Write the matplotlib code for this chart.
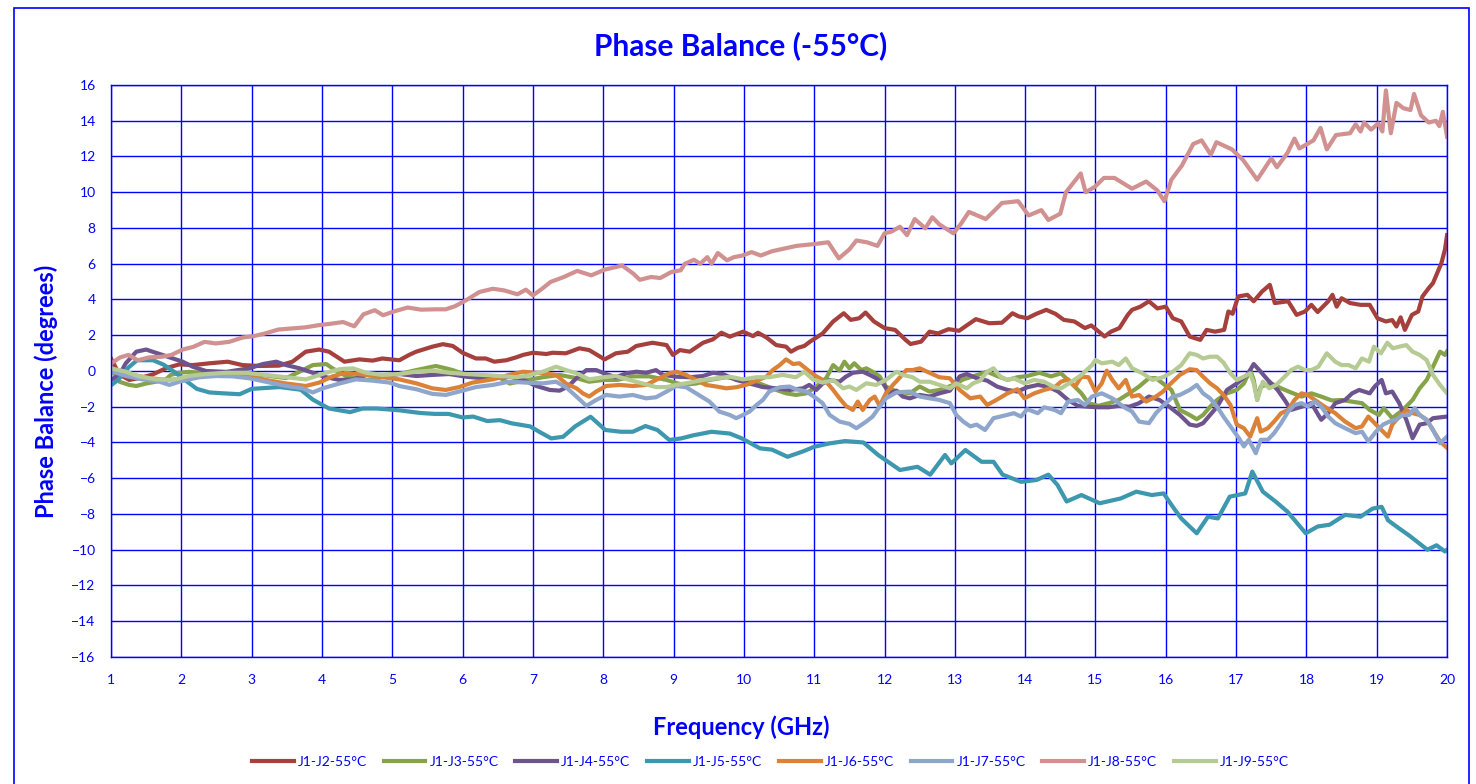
import matplotlib
matplotlib.use("Agg")
import matplotlib.pyplot as plt
from matplotlib.patches import Rectangle

plt.rcParams['font.family'] = ['Lato', 'DejaVu Sans']

BLUE = '#0000ff'

labels = ['J1-J2-55°C', 'J1-J3-55°C', 'J1-J4-55°C', 'J1-J5-55°C',
          'J1-J6-55°C', 'J1-J7-55°C', 'J1-J8-55°C', 'J1-J9-55°C']
colors = ['#a5403d', '#86a34a', '#6e548e', '#3c97af',
          '#db8238', '#8fa6cc', '#d09190', '#b6cb93']

# (frequency GHz, phase balance deg)
j2 = [(1.0,0.7),(1.12,-0.2),(1.26,-0.5),(1.4,-0.4),(1.59,-0.2),(1.78,0.15),(1.97,0.37),(2.16,0.33),(2.4,0.43),(2.66,0.52),(2.87,0.33),(3.11,0.28),(3.39,0.3),(3.58,0.52),(3.77,1.08),(3.96,1.2),(4.1,1.08),(4.32,0.52),(4.53,0.65),(4.72,0.58),(4.86,0.7),(5.1,0.6),(5.24,0.9),(5.34,1.08),(5.57,1.36),(5.72,1.5),(5.86,1.4),(6.0,1.02),(6.19,0.7),(6.33,0.7),(6.45,0.52),(6.62,0.6),(6.76,0.76),(6.86,0.9),(7.0,1.02),(7.19,0.95),(7.28,1.02),(7.47,0.99),(7.66,1.27),(7.8,1.17),(8.02,0.65),(8.18,0.99),(8.35,1.08),(8.47,1.4),(8.7,1.58),(8.9,1.45),(8.99,0.9),(9.09,1.17),(9.23,1.08),(9.42,1.58),(9.56,1.77),(9.68,2.14),(9.8,1.92),(9.99,2.2),(10.13,1.95),(10.2,2.14),(10.32,1.88),(10.46,1.45),(10.6,1.36),(10.67,1.08),(10.77,1.3),(10.86,1.4),(10.94,1.64),(11.12,2.1),(11.27,2.77),(11.42,3.23),(11.52,2.86),(11.64,2.95),(11.73,3.27),(11.85,2.77),(12.0,2.4),(12.15,2.3),(12.3,1.74),(12.37,1.51),(12.52,1.64),(12.64,2.2),(12.76,2.1),(12.91,2.34),(13.06,2.25),(13.18,2.58),(13.3,2.9),(13.49,2.67),(13.67,2.7),(13.82,3.23),(13.91,3.05),(14.03,2.95),(14.16,3.2),(14.3,3.42),(14.43,3.2),(14.55,2.86),(14.7,2.77),(14.85,2.4),(14.94,2.55),(15.13,1.93),(15.22,2.2),(15.34,2.4),(15.46,3.14),(15.52,3.42),(15.64,3.6),(15.76,3.9),(15.88,3.5),(16.0,3.6),(16.1,2.95),(16.22,2.77),(16.34,1.93),(16.49,1.74),(16.58,2.3),(16.7,2.2),(16.83,2.3),(16.89,3.33),(16.95,3.2),(17.03,4.17),(17.16,4.26),(17.25,3.9),(17.37,4.45),(17.48,4.82),(17.55,3.8),(17.74,3.9),(17.86,3.14),(17.98,3.33),(18.07,3.7),(18.16,3.3),(18.31,3.9),(18.37,4.26),(18.43,3.6),(18.5,4.07),(18.62,3.8),(18.77,3.7),(18.9,3.7),(19.01,2.95),(19.13,2.77),(19.22,2.85),(19.28,2.49),(19.34,3.0),(19.4,2.3),(19.5,3.14),(19.59,3.33),(19.65,4.17),(19.74,4.64),(19.8,4.92),(19.86,5.48),(19.92,6.04),(19.97,6.8),(20.0,7.6)]

j3 = [(1.0,0.15),(1.12,-0.6),(1.26,-0.78),(1.36,-0.84),(1.5,-0.7),(1.64,-0.6),(1.78,-0.47),(1.85,-0.22),(1.97,-0.1),(2.11,-0.05),(2.4,-0.15),(2.7,-0.2),(3.0,-0.2),(3.2,-0.25),(3.49,-0.4),(3.68,-0.04),(3.87,0.33),(4.06,0.39),(4.15,0.15),(4.34,-0.28),(4.63,-0.5),(4.77,-0.47),(4.91,-0.22),(5.1,-0.17),(5.34,0.05),(5.62,0.28),(5.76,0.15),(5.86,0.05),(6.05,-0.22),(6.28,-0.35),(6.52,-0.35),(6.67,-0.7),(6.86,-0.55),(7.14,-0.35),(7.38,-0.22),(7.62,-0.4),(7.8,-0.6),(8.0,-0.5),(8.2,-0.5),(8.42,-0.3),(8.65,-0.3),(8.9,-0.5),(9.13,-0.78),(9.32,-0.7),(9.51,-0.5),(9.75,-0.35),(9.99,-0.5),(10.22,-0.7),(10.46,-1.06),(10.6,-1.25),(10.74,-1.34),(10.89,-1.25),(11.03,-0.87),(11.17,-0.4),(11.27,0.33),(11.36,0.02),(11.43,0.52),(11.5,0.15),(11.57,0.43),(11.67,0.05),(11.74,0.15),(11.83,-0.04),(11.93,-0.3),(12.02,-0.87),(12.17,-1.15),(12.36,-1.25),(12.5,-0.87),(12.64,-1.15),(12.78,-1.06),(12.98,-0.78),(13.12,-0.47),(13.26,-0.3),(13.46,-0.04),(13.6,-0.28),(13.75,-0.5),(13.89,-0.35),(14.03,-0.28),(14.2,-0.1),(14.37,-0.3),(14.51,-0.13),(14.66,-0.7),(14.8,-1.25),(14.9,-1.8),(15.04,-1.95),(15.19,-1.8),(15.33,-1.62),(15.48,-1.25),(15.62,-0.87),(15.76,-0.4),(15.86,-0.4),(15.96,-0.7),(16.08,-1.06),(16.2,-2.18),(16.34,-2.46),(16.44,-2.7),(16.53,-2.46),(16.63,-2.0),(16.73,-1.62),(16.87,-1.25),(17.01,-1.06),(17.11,-0.7),(17.2,0.05),(17.25,-0.5),(17.3,-1.62),(17.35,-0.87),(17.5,-0.7),(17.64,-0.97),(17.78,-1.2),(17.93,-1.43),(18.07,-1.25),(18.21,-1.43),(18.36,-1.65),(18.5,-1.62),(18.64,-1.71),(18.79,-1.8),(18.9,-2.18),(19.03,-2.46),(19.1,-2.08),(19.22,-2.64),(19.37,-2.18),(19.51,-1.62),(19.61,-0.97),(19.71,-0.5),(19.8,0.24),(19.9,1.08),(19.97,0.9),(20.0,1.1)]

j4 = [(1.0,-0.5),(1.12,-0.22),(1.21,0.43),(1.36,1.08),(1.5,1.2),(1.59,1.08),(1.73,0.9),(1.88,0.7),(2.02,0.52),(2.16,0.24),(2.35,0.0),(2.64,-0.05),(2.97,0.15),(3.16,0.39),(3.35,0.52),(3.49,0.33),(3.68,0.15),(3.87,-0.1),(4.06,-0.35),(4.25,-0.5),(4.44,-0.47),(4.63,-0.22),(4.86,-0.28),(5.1,-0.17),(5.34,-0.28),(5.57,-0.22),(5.81,-0.17),(6.05,-0.32),(6.28,-0.4),(6.52,-0.35),(6.67,-0.32),(6.86,-0.5),(7.05,-0.84),(7.24,-1.06),(7.38,-1.1),(7.5,-0.87),(7.62,-0.4),(7.76,0.05),(7.9,0.05),(8.04,-0.17),(8.18,-0.35),(8.33,-0.13),(8.47,-0.04),(8.61,-0.1),(8.75,0.05),(8.85,-0.22),(9.04,-0.32),(9.23,-0.35),(9.42,-0.28),(9.56,-0.1),(9.7,-0.17),(9.89,-0.5),(10.08,-0.7),(10.27,-0.9),(10.46,-0.97),(10.65,-1.06),(10.84,-0.97),(10.93,-0.78),(11.03,-1.06),(11.12,-0.7),(11.22,-0.5),(11.36,-0.6),(11.45,-0.32),(11.55,-0.1),(11.69,-0.04),(11.79,-0.22),(11.88,-0.4),(11.98,-0.7),(12.07,-1.25),(12.17,-1.1),(12.26,-1.43),(12.36,-1.53),(12.5,-1.34),(12.64,-1.43),(12.78,-1.25),(12.93,-1.1),(13.07,-0.3),(13.17,-0.17),(13.31,-0.4),(13.46,-0.54),(13.6,-0.87),(13.75,-1.06),(13.89,-1.15),(14.03,-0.91),(14.18,-0.78),(14.32,-0.87),(14.47,-1.15),(14.61,-1.62),(14.75,-1.95),(14.9,-2.0),(15.04,-2.03),(15.19,-2.03),(15.33,-1.95),(15.48,-2.0),(15.62,-1.8),(15.76,-1.43),(15.91,-1.62),(16.05,-2.0),(16.2,-2.46),(16.34,-3.0),(16.44,-3.07),(16.53,-2.92),(16.63,-2.46),(16.73,-2.0),(16.87,-1.06),(17.01,-0.7),(17.16,-0.22),(17.25,0.39),(17.35,-0.04),(17.45,-0.5),(17.59,-1.06),(17.69,-1.62),(17.78,-2.18),(17.93,-2.0),(18.07,-1.8),(18.21,-2.73),(18.31,-2.36),(18.41,-1.8),(18.55,-1.62),(18.65,-1.25),(18.75,-1.06),(18.9,-1.25),(18.97,-0.87),(19.07,-0.5),(19.13,-1.25),(19.22,-1.15),(19.32,-1.8),(19.42,-2.73),(19.51,-3.76),(19.61,-3.0),(19.71,-2.92),(19.8,-2.64),(20.0,-2.55)]

j5 = [(1.0,-0.8),(1.1,-0.5),(1.25,0.2),(1.37,0.6),(1.6,0.6),(1.75,0.35),(1.9,-0.05),(2.05,-0.5),(2.22,-1.0),(2.4,-1.2),(2.6,-1.25),(2.83,-1.3),(3.0,-1.0),(3.2,-0.95),(3.4,-0.9),(3.7,-1.05),(3.87,-1.6),(4.1,-2.1),(4.4,-2.3),(4.58,-2.1),(4.78,-2.1),(5.1,-2.2),(5.4,-2.35),(5.6,-2.4),(5.8,-2.4),(6.0,-2.6),(6.15,-2.55),(6.35,-2.8),(6.53,-2.75),(6.7,-2.93),(6.96,-3.1),(7.09,-3.4),(7.26,-3.77),(7.43,-3.68),(7.6,-3.1),(7.82,-2.56),(8.03,-3.3),(8.25,-3.4),(8.42,-3.4),(8.6,-3.08),(8.77,-3.3),(8.94,-3.86),(9.11,-3.77),(9.28,-3.6),(9.54,-3.4),(9.8,-3.5),(9.97,-3.77),(10.23,-4.33),(10.4,-4.4),(10.62,-4.8),(10.84,-4.5),(11.0,-4.24),(11.22,-4.05),(11.44,-3.92),(11.7,-4.0),(11.91,-4.7),(12.22,-5.54),(12.47,-5.36),(12.65,-5.8),(12.86,-4.7),(12.95,-5.17),(13.15,-4.42),(13.38,-5.08),(13.55,-5.08),(13.68,-5.8),(13.94,-6.2),(14.16,-6.1),(14.33,-5.8),(14.46,-6.38),(14.59,-7.3),(14.8,-6.94),(15.06,-7.4),(15.36,-7.13),(15.58,-6.75),(15.8,-6.94),(15.97,-6.85),(16.1,-7.6),(16.22,-8.25),(16.44,-9.08),(16.6,-8.15),(16.74,-8.25),(16.91,-7.03),(17.13,-6.85),(17.23,-5.63),(17.38,-6.75),(17.56,-7.3),(17.73,-7.87),(17.99,-9.08),(18.16,-8.7),(18.33,-8.6),(18.55,-8.05),(18.77,-8.15),(18.94,-7.7),(19.07,-7.6),(19.16,-8.35),(19.28,-8.7),(19.46,-9.2),(19.72,-10.0),(19.85,-9.75),(19.97,-10.1),(20.0,-10.0)]

j6 = [(1.0,0.05),(1.31,-0.22),(1.55,-0.4),(1.78,-0.5),(1.97,-0.47),(2.26,-0.3),(2.5,-0.22),(2.73,-0.22),(2.97,-0.28),(3.2,-0.5),(3.49,-0.7),(3.77,-0.84),(3.96,-0.65),(4.15,-0.3),(4.34,-0.1),(4.63,-0.22),(4.86,-0.35),(5.1,-0.47),(5.34,-0.69),(5.57,-0.97),(5.76,-1.06),(5.95,-0.9),(6.14,-0.65),(6.43,-0.47),(6.66,-0.22),(6.86,-0.04),(7.14,-0.13),(7.33,-0.22),(7.47,-0.7),(7.62,-0.97),(7.71,-1.25),(7.8,-1.43),(7.9,-1.15),(8.04,-0.84),(8.23,-0.78),(8.42,-0.84),(8.61,-0.78),(8.75,-0.5),(8.94,-0.13),(9.04,-0.04),(9.18,-0.22),(9.32,-0.5),(9.46,-0.78),(9.61,-0.87),(9.75,-0.97),(9.89,-0.91),(10.03,-0.78),(10.18,-0.54),(10.32,-0.32),(10.41,0.05),(10.51,0.33),(10.6,0.65),(10.7,0.39),(10.79,0.43),(10.91,0.05),(11.03,-0.3),(11.17,-0.6),(11.27,-1.06),(11.36,-1.53),(11.45,-1.95),(11.55,-2.18),(11.62,-1.71),(11.69,-2.18),(11.79,-1.62),(11.86,-1.43),(11.93,-1.95),(12.02,-1.25),(12.12,-0.78),(12.21,-0.4),(12.31,0.05),(12.4,0.05),(12.5,0.15),(12.64,-0.1),(12.78,-0.35),(12.93,-0.41),(13.07,-1.06),(13.22,-1.53),(13.36,-1.43),(13.46,-1.9),(13.6,-1.6),(13.75,-1.25),(13.89,-1.02),(13.99,-1.53),(14.13,-1.25),(14.27,-1.06),(14.42,-0.91),(14.51,-0.6),(14.61,-0.47),(14.71,-0.87),(14.8,-0.32),(14.9,-0.35),(15.0,-1.15),(15.09,-0.69),(15.16,0.02),(15.24,-0.5),(15.33,-0.97),(15.43,-0.5),(15.52,-1.43),(15.62,-1.34),(15.72,-1.71),(15.86,-1.43),(15.96,-1.15),(16.05,-0.78),(16.2,-0.22),(16.34,0.1),(16.44,0.05),(16.53,-0.32),(16.63,-0.69),(16.73,-0.97),(16.82,-1.34),(16.92,-1.9),(17.01,-3.0),(17.11,-3.2),(17.2,-3.67),(17.3,-2.64),(17.35,-3.39),(17.45,-3.2),(17.54,-2.83),(17.64,-2.36),(17.74,-2.18),(17.83,-1.62),(17.93,-1.25),(18.02,-1.34),(18.12,-1.62),(18.26,-2.0),(18.41,-2.36),(18.55,-2.83),(18.7,-3.2),(18.79,-3.1),(18.88,-2.55),(18.99,-3.0),(19.09,-3.39),(19.16,-3.67),(19.22,-3.0),(19.32,-2.55),(19.42,-2.18),(19.51,-2.36),(19.61,-2.46),(19.71,-2.73),(19.8,-3.3),(19.9,-3.94),(20.0,-4.3)]

j7 = [(1.0,0.0),(1.21,-0.28),(1.45,-0.47),(1.69,-0.6),(1.83,-0.78),(1.97,-0.6),(2.11,-0.47),(2.26,-0.35),(2.5,-0.28),(2.73,-0.3),(2.97,-0.41),(3.2,-0.6),(3.49,-0.84),(3.72,-0.97),(3.87,-1.2),(4.01,-0.97),(4.25,-0.7),(4.48,-0.47),(4.72,-0.54),(4.96,-0.65),(5.1,-0.84),(5.34,-1.02),(5.57,-1.28),(5.76,-1.34),(5.95,-1.15),(6.19,-0.9),(6.43,-0.78),(6.66,-0.6),(6.9,-0.65),(7.14,-0.69),(7.33,-0.6),(7.47,-0.91),(7.62,-1.43),(7.76,-1.95),(7.9,-1.62),(8.04,-1.34),(8.23,-1.43),(8.42,-1.34),(8.61,-1.53),(8.75,-1.47),(8.9,-1.15),(9.04,-0.84),(9.18,-0.91),(9.32,-1.25),(9.51,-1.71),(9.65,-2.27),(9.8,-2.46),(9.89,-2.64),(9.99,-2.46),(10.08,-2.27),(10.18,-1.9),(10.27,-1.62),(10.36,-1.15),(10.51,-0.91),(10.65,-0.87),(10.74,-1.02),(10.89,-1.15),(11.03,-1.53),(11.12,-1.8),(11.22,-2.46),(11.36,-2.83),(11.5,-2.96),(11.6,-3.2),(11.74,-2.83),(11.83,-2.55),(11.93,-2.0),(12.02,-1.53),(12.17,-1.2),(12.36,-1.15),(12.5,-1.43),(12.64,-1.53),(12.78,-1.62),(12.93,-1.8),(13.02,-2.46),(13.12,-2.83),(13.22,-3.1),(13.31,-3.0),(13.43,-3.3),(13.55,-2.64),(13.7,-2.5),(13.84,-2.36),(13.94,-2.55),(14.03,-2.14),(14.18,-2.36),(14.27,-2.03),(14.42,-2.18),(14.51,-2.36),(14.61,-1.71),(14.75,-1.62),(14.85,-1.9),(14.95,-1.43),(15.09,-1.25),(15.24,-1.53),(15.33,-1.8),(15.43,-2.08),(15.52,-2.27),(15.62,-2.83),(15.76,-2.92),(15.86,-2.36),(15.96,-1.95),(16.1,-1.43),(16.2,-1.34),(16.34,-1.06),(16.44,-0.78),(16.53,-1.25),(16.63,-1.53),(16.73,-2.0),(16.82,-2.55),(16.92,-3.1),(17.04,-3.76),(17.11,-4.22),(17.18,-3.85),(17.28,-4.6),(17.35,-3.85),(17.45,-3.85),(17.54,-3.48),(17.64,-2.92),(17.74,-2.27),(17.83,-1.9),(17.93,-1.8),(18.02,-1.99),(18.12,-1.71),(18.21,-1.99),(18.31,-2.55),(18.41,-2.92),(18.55,-3.2),(18.7,-3.48),(18.79,-3.39),(18.88,-3.94),(18.99,-3.39),(19.09,-3.0),(19.18,-2.83),(19.27,-2.73),(19.37,-2.46),(19.46,-2.46),(19.54,-2.08),(19.61,-2.46),(19.71,-2.73),(19.8,-3.3),(19.9,-4.04),(20.0,-3.67)]

j8 = [(1.0,0.42),(1.13,0.76),(1.25,0.9),(1.38,0.6),(1.54,0.76),(1.73,0.8),(1.86,0.9),(2.02,1.2),(2.17,1.35),(2.33,1.63),(2.49,1.54),(2.68,1.63),(2.87,1.87),(3.03,1.95),(3.19,2.1),(3.38,2.32),(3.57,2.38),(3.76,2.44),(3.95,2.56),(4.14,2.65),(4.3,2.74),(4.46,2.5),(4.59,3.17),(4.75,3.4),(4.87,3.12),(5.03,3.34),(5.22,3.55),(5.41,3.43),(5.6,3.45),(5.76,3.45),(5.89,3.62),(6.05,3.96),(6.24,4.42),(6.43,4.6),(6.59,4.51),(6.78,4.29),(6.9,4.55),(7.0,4.23),(7.13,4.6),(7.25,4.98),(7.44,5.26),(7.63,5.6),(7.83,5.35),(8.02,5.67),(8.27,5.9),(8.43,5.44),(8.52,5.1),(8.68,5.26),(8.81,5.2),(8.97,5.54),(9.1,5.63),(9.16,6.0),(9.29,6.22),(9.38,6.0),(9.48,6.37),(9.54,6.0),(9.63,6.6),(9.76,6.19),(9.86,6.37),(9.98,6.46),(10.11,6.65),(10.24,6.46),(10.4,6.7),(10.56,6.84),(10.75,7.0),(11.0,7.1),(11.2,7.2),(11.35,6.3),(11.5,6.8),(11.6,7.3),(11.75,7.2),(11.9,7.0),(12.0,7.7),(12.1,7.8),(12.22,8.07),(12.32,7.6),(12.43,8.5),(12.58,7.98),(12.68,8.6),(12.78,8.2),(12.98,7.7),(13.09,8.25),(13.2,8.9),(13.44,8.5),(13.57,9.0),(13.67,9.4),(13.9,9.5),(14.05,8.7),(14.23,9.0),(14.33,8.45),(14.5,8.8),(14.58,10.0),(14.79,11.05),(14.86,10.0),(14.99,10.3),(15.12,10.8),(15.27,10.8),(15.52,10.2),(15.72,10.6),(15.88,10.1),(15.98,9.5),(16.08,10.7),(16.23,11.5),(16.39,12.7),(16.51,12.9),(16.64,12.1),(16.72,12.8),(16.94,12.4),(17.1,11.8),(17.3,10.7),(17.5,11.9),(17.58,11.4),(17.73,12.2),(17.83,13.0),(17.9,12.45),(18.1,12.9),(18.2,13.6),(18.29,12.4),(18.42,13.2),(18.62,13.3),(18.7,13.8),(18.77,13.4),(18.82,13.9),(18.92,13.5),(19.02,13.85),(19.08,13.4),(19.13,15.7),(19.2,13.3),(19.28,15.0),(19.38,14.7),(19.48,14.6),(19.53,15.5),(19.63,14.3),(19.74,13.9),(19.84,14.0),(19.89,13.7),(19.94,14.5),(20.0,13.1)]

j9 = [(1.0,0.15),(1.21,-0.04),(1.4,-0.3),(1.64,-0.47),(1.88,-0.5),(2.11,-0.28),(2.35,-0.17),(2.64,-0.1),(2.92,-0.1),(3.2,-0.22),(3.49,-0.35),(3.77,-0.47),(4.06,-0.1),(4.25,0.1),(4.44,0.15),(4.63,-0.1),(4.86,-0.22),(5.1,-0.17),(5.34,-0.04),(5.57,0.02),(5.81,-0.1),(6.05,-0.17),(6.28,-0.22),(6.52,-0.28),(6.76,-0.35),(6.9,-0.28),(7.14,-0.04),(7.33,0.24),(7.47,0.05),(7.62,-0.13),(7.8,-0.47),(8.0,-0.35),(8.18,-0.28),(8.37,-0.5),(8.56,-0.7),(8.75,-0.9),(8.9,-0.9),(9.04,-0.78),(9.23,-0.65),(9.42,-0.5),(9.61,-0.41),(9.8,-0.32),(9.99,-0.47),(10.18,-0.35),(10.36,-0.35),(10.55,-0.22),(10.74,-0.35),(10.86,-0.04),(10.98,-0.47),(11.12,-0.65),(11.27,-0.5),(11.41,-0.97),(11.5,-0.87),(11.6,-1.06),(11.74,-0.69),(11.88,-0.78),(12.02,-0.5),(12.17,-0.04),(12.26,-0.22),(12.4,-0.35),(12.5,-0.6),(12.64,-0.6),(12.78,-0.78),(12.93,-0.97),(13.02,-0.69),(13.17,-0.97),(13.26,-0.69),(13.36,-0.54),(13.46,-0.04),(13.55,0.15),(13.65,-0.32),(13.75,-0.5),(13.84,-0.41),(13.99,-0.69),(14.13,-0.5),(14.27,-0.6),(14.42,-0.91),(14.51,-0.97),(14.66,-0.6),(14.8,-0.22),(14.95,0.33),(15.0,0.61),(15.09,0.43),(15.24,0.52),(15.33,0.33),(15.43,0.7),(15.52,0.15),(15.67,-0.13),(15.81,-0.5),(15.96,-0.35),(16.1,-0.04),(16.22,0.33),(16.34,0.99),(16.44,0.9),(16.53,0.7),(16.63,0.8),(16.73,0.8),(16.82,0.47),(16.92,-0.13),(17.01,-0.5),(17.11,-0.32),(17.2,-0.13),(17.25,-0.69),(17.3,-1.62),(17.38,-0.6),(17.47,-0.97),(17.57,-0.78),(17.69,-0.32),(17.78,0.05),(17.88,0.24),(17.98,0.05),(18.07,0.05),(18.17,0.24),(18.29,0.99),(18.41,0.52),(18.5,0.33),(18.6,0.33),(18.7,0.15),(18.79,0.7),(18.89,0.52),(18.96,1.36),(19.06,0.99),(19.15,1.58),(19.23,1.27),(19.32,1.36),(19.42,1.45),(19.51,1.08),(19.61,0.9),(19.71,0.61),(19.8,-0.22),(19.9,-0.78),(20.0,-1.25)]

series = [j2, j3, j4, j5, j6, j7, j8, j9]

x_ticks = list(range(1, 21))
y_ticks = list(range(-16, 17, 2))

fig = plt.figure(figsize=(14.76, 7.84), dpi=100)
ax = fig.add_axes([0.0752, 0.162, 0.9052, 0.7296])

for data, lab, col in zip(series, labels, colors):
    xs = [p[0] for p in data]
    ys = [p[1] for p in data]
    ax.plot(xs, ys, color=col, lw=3.0, label=lab, solid_joinstyle='round')

ax.set_xlim(1, 20)
ax.set_ylim(-16, 16)
ax.set_xticks(x_ticks)
ax.set_yticks(y_ticks)
ax.grid(True, color=BLUE, lw=1.0)
ax.set_axisbelow(True)
for s in ax.spines.values():
    s.set_color(BLUE)
    s.set_linewidth(1.0)
ax.tick_params(length=0, colors=BLUE, labelsize=10)
ax.tick_params(axis='y', pad=11)
ax.tick_params(axis='x', pad=12)

fig.text(0.502, 0.942, 'Phase Balance (-55°C)', color=BLUE, fontsize=21.5,
         fontweight='bold', ha='center', va='center')
fig.text(0.031, 0.501, 'Phase Balance (degrees)', color=BLUE, fontsize=17,
         fontweight='bold', ha='center', va='center', rotation=90)
fig.text(0.502, 0.073, 'Frequency (GHz)', color=BLUE, fontsize=17,
         fontweight='bold', ha='center', va='center')

leg = fig.legend(loc='center', bbox_to_anchor=(0.522, 0.028), ncol=8,
                 frameon=False, fontsize=10, handlelength=3.0,
                 columnspacing=1.2, handletextpad=0.3)
for t in leg.get_texts():
    t.set_color(BLUE)

fig.patches.append(Rectangle((0.0095, -0.01), 0.986, 1.0, transform=fig.transFigure,
                             fill=False, edgecolor=BLUE, lw=1.2))

fig.savefig('out.png', dpi=100)
